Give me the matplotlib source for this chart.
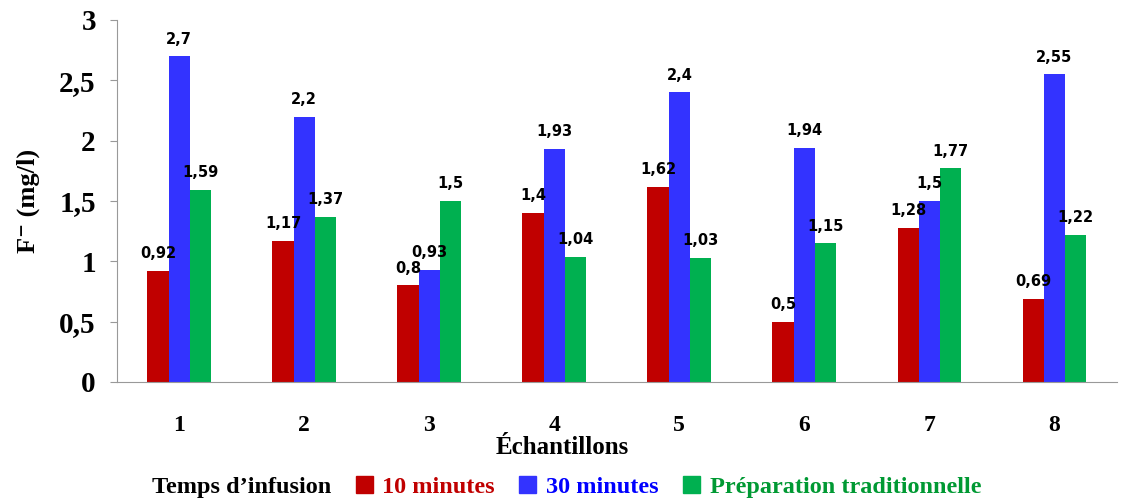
import numpy as np
import matplotlib
matplotlib.use('Agg')
import matplotlib.pyplot as plt
from matplotlib.patches import Patch

# Data
samples = ['1', '2', '3', '4', '5', '6', '7', '8']
min10 = [0.92, 1.17, 0.80, 1.40, 1.62, 0.50, 1.28, 0.69]
min30 = [2.70, 2.20, 0.93, 1.93, 2.40, 1.94, 1.50, 2.55]
trad = [1.59, 1.37, 1.50, 1.04, 1.03, 1.15, 1.77, 1.22]
series_names = ['10 minutes', '30 minutes', 'Préparation traditionnelle']
colors = ['#C00000', '#3333FF', '#00B050']
text_colors = ['#C00000', '#0000FF', '#009933']

def fmt(v):
    return ('%g' % v).replace('.', ',')

fig = plt.figure(figsize=(11.22, 5), dpi=100)
ax = fig.add_axes([0.104, 0.236, 0.8915, 0.724])

x = np.arange(len(samples))
w = 0.17
serif = 'Liberation Serif'
for i, (vals, c) in enumerate(zip([min10, min30, trad], colors)):
    pos = x + (i - 1) * w
    ax.bar(pos, vals, width=w, color=c, edgecolor='none')
    for p, v in zip(pos, vals):
        ax.text(p, v + 0.08, fmt(v), ha='center', va='bottom',
                fontsize=10.5, fontweight='bold', family='DejaVu Sans')

ax.set_xlim(-0.5, len(samples) - 0.5)
ax.set_ylim(0, 3)
ax.set_yticks([0, 0.5, 1, 1.5, 2, 2.5, 3])
ax.set_yticklabels(['0', '0,5', '1', '1,5', '2', '2,5', '3'],
                   fontsize=21, fontweight='bold', family=serif)
ax.set_xticks(x)
ax.set_xticklabels(samples, fontsize=17, fontweight='bold', family=serif)
ax.tick_params(axis='x', length=0, pad=24)
ax.tick_params(axis='y', length=5, color='#999999', pad=10)
for s in ['top', 'right']:
    ax.spines[s].set_visible(False)
for s in ['left', 'bottom']:
    ax.spines[s].set_color('#999999')
ax.set_ylabel('F\u207b (mg/l)', fontsize=19, fontweight='bold',
              family=[serif, 'DejaVu Serif'], labelpad=14)
ax.set_xlabel('Échantillons', fontsize=18, fontweight='bold', family=serif, labelpad=4)
ax.xaxis.set_label_coords(0.445, -0.15)

handles = [Patch(visible=False)] + [Patch(color=c) for c in colors]
labels = ["Temps d\u2019infusion"] + series_names
leg = fig.legend(handles, labels, loc='lower center', bbox_to_anchor=(0.493, -0.04),
                 ncol=4, frameon=False, handlelength=0.7, handleheight=0.7,
                 handletextpad=0.4, columnspacing=1.0,
                 prop={'family': serif, 'weight': 'bold', 'size': 17.5})
for t, c in zip(leg.get_texts(), ['black'] + text_colors):
    t.set_color(c)

fig.savefig('out.png', dpi=100)
